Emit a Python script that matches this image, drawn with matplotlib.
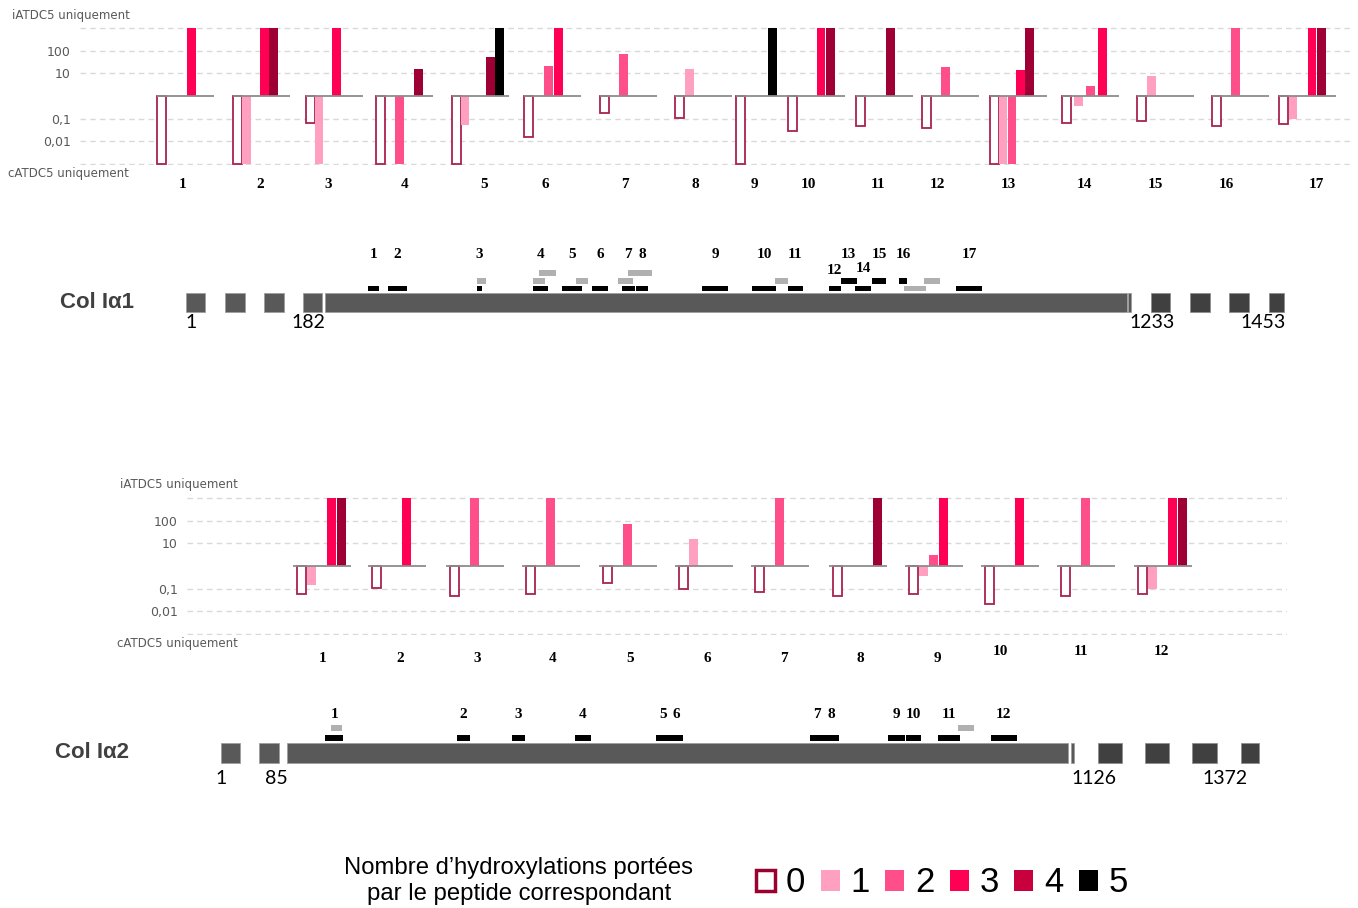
import numpy as np
import matplotlib.pyplot as plt
from matplotlib.patches import Patch
from matplotlib.ticker import NullLocator

W, H = 1358, 908

# ratio iATDC5 / cATDC5 per peptide (log scale); I_ONLY / C_ONLY = peptide seen in one cell line only
I_ONLY = 1e3
C_ONLY = 1e-3
nan = np.nan

# Col I alpha1 : 17 peptides, one list per number of hydroxylations
a1_h0 = [C_ONLY, C_ONLY, 0.065, C_ONLY, C_ONLY, 0.015, 0.17, 0.11, C_ONLY, 0.028, 0.047, 0.039, C_ONLY, 0.065, 0.077, 0.047, 0.06]
a1_h1 = [nan, C_ONLY, C_ONLY, nan, 0.055, nan, nan, 16, nan, nan, nan, nan, C_ONLY, 0.36, 7.6, nan, 0.1]
a1_h2 = [nan, nan, nan, C_ONLY, nan, 22, 74, nan, nan, nan, nan, 20, C_ONLY, 2.7, nan, I_ONLY, nan]
a1_h3 = [I_ONLY, I_ONLY, I_ONLY, nan, nan, I_ONLY, nan, nan, nan, I_ONLY, nan, nan, 13.5, I_ONLY, nan, nan, I_ONLY]
a1_h4 = [nan, I_ONLY, nan, 16, 52, nan, nan, nan, nan, I_ONLY, I_ONLY, nan, I_ONLY, nan, nan, nan, I_ONLY]
a1_h5 = [nan, nan, nan, nan, I_ONLY, nan, nan, nan, I_ONLY, nan, nan, nan, nan, nan, nan, nan, nan]

# Col I alpha2 : 12 peptides
a2_h0 = [0.06, 0.11, 0.048, 0.056, 0.17, 0.1, 0.07, 0.048, 0.06, 0.021, 0.048, 0.06]
a2_h1 = [0.145, nan, nan, nan, nan, 16, nan, nan, 0.36, nan, nan, 0.1]
a2_h2 = [nan, nan, I_ONLY, I_ONLY, 74, nan, I_ONLY, nan, 3, nan, I_ONLY, nan]
a2_h3 = [I_ONLY, I_ONLY, nan, nan, nan, nan, nan, nan, I_ONLY, I_ONLY, nan, I_ONLY]
a2_h4 = [I_ONLY, nan, nan, nan, nan, nan, nan, I_ONLY, nan, nan, nan, I_ONLY]
a2_h5 = [nan] * 12

# peptide positions on the sequence (residues)
a1_pep_start = [238, 265, 381, 455, 493, 532, 571, 590, 676, 742, 789, 842, 858, 877, 899, 934, 1009]
a1_pep_end = [253, 289, 388, 474, 519, 553, 588, 605, 710, 773, 808, 858, 879, 898, 917, 945, 1043]
a1_gray_start = [381, 455, 462, 511, 566, 579, 772, 941, 967]
a1_gray_end = [393, 470, 485, 527, 586, 611, 789, 970, 988]

a2_pep_start = [136, 312, 385, 469, 577, 596, 782, 801, 886, 910, 953, 1023]
a2_pep_end = [160, 329, 402, 490, 596, 613, 801, 821, 909, 930, 982, 1058]
a2_gray_start = [144, 980]
a2_gray_end = [158, 1001]

# chain domains (residues)
a1_domains = [(0, 25), (51, 77), (102, 128), (153, 178), (182, 1233), (1234, 1238),
              (1264, 1289), (1316, 1342), (1367, 1393), (1419, 1439)]
a2_domains = [(-3, 22), (48, 74), (85, 1126), (1130, 1134),
              (1166, 1198), (1229, 1261), (1291, 1325), (1357, 1381)]
a1_marks = ['1', '182', '1233', '1453']
a2_marks = ['1', '85', '1126', '1372']

COLORS = ['white', '#ffa0c0', '#ff4f8a', '#ff0055', '#9e0035', '#000000']
LEG_COLORS = ['white', '#ffa0c0', '#ff4f8a', '#ff0055', '#c8003e', '#000000']
EDGE0 = '#a8234f'
GRID = '#d9d9d9'
TXT = '#595959'
PAD = 0.05  # decades of room above/below so the end gridlines are not cut

fig = plt.figure(figsize=(W / 100, H / 100), dpi=100)


def px_axes(x0, y0, x1, y1):
    return fig.add_axes([x0 / W, 1 - y1 / H, (x1 - x0) / W, (y1 - y0) / H])


def ratio_chart(ax, series, starts, steps, bar_w, base_from, base_len, lab_x, lab_y):
    starts = np.asarray(starts, float)
    steps = np.asarray(steps, float) * np.ones(len(starts))
    for h, vals in enumerate(series):
        vals = np.asarray(vals, float)
        ok = ~np.isnan(vals)
        if not ok.any():
            continue
        xs = starts[ok] + h * steps[ok]
        v = vals[ok]
        if h == 0:
            ax.bar(xs, v - 1, bottom=1, width=bar_w, align='edge', facecolor='white',
                   edgecolor=EDGE0, linewidth=1.3, zorder=3)
        else:
            ax.bar(xs, v - 1, bottom=1, width=bar_w, align='edge', color=COLORS[h],
                   linewidth=0, zorder=3)
    ax.hlines(np.ones(len(starts)), starts + base_from, starts + base_from + base_len,
              color='#8c8c8c', lw=1.3, zorder=4)
    ax.set_yscale('log')
    ax.set_ylim(10 ** (-3 - PAD), 10 ** (3 + PAD))
    ax.set_yticks([1e3, 1e2, 1e1, 1e-1, 1e-2, 1e-3], ['', '100', '10', '0,1', '0,01', ''])
    ax.yaxis.set_minor_locator(NullLocator())
    ax.set_xticks([])
    ax.tick_params(axis='y', length=0, pad=6.5, labelsize=9, labelcolor=TXT)
    ax.grid(axis='y', ls=(0, (4, 3)), color=GRID, lw=1)
    ax.set_axisbelow(True)
    for s in ax.spines.values():
        s.set_visible(False)
    for i, (x, y) in enumerate(zip(lab_x, lab_y)):
        ax.text(x, y, str(i + 1), transform=ax.get_xaxis_transform(), ha='center', va='center',
                family='Liberation Serif', weight='bold', fontsize=11)


dy = PAD * 22.67  # pixels per decade

# ---- top chart : Col I alpha1 ----
ax1 = px_axes(80, 28 - dy, 1352, 164 + dy)
ax1.set_xlim(80, 1352)
a1_starts = [157, 233, 306, 376, 452, 524, 600, 675, 736, 788, 856, 922, 990, 1062, 1137, 1212, 1279]
a1_steps = [10, 9, 8.7, 9.5, 8.6, 10, 9.5, 10, 6.4, 9.5, 7.5, 9.5, 8.75, 12, 10, 9.5, 9.5]
a1_lab_x = [183, 260, 328, 405, 484, 545, 625, 695, 754, 808, 878, 937, 1008, 1084, 1155, 1226, 1316]
ratio_chart(ax1, [a1_h0, a1_h1, a1_h2, a1_h3, a1_h4, a1_h5], a1_starts, a1_steps, 8.5, 0, 57,
            a1_lab_x, [-0.14] * 17)
fig.text(12 / W, 1 - 15 / H, 'iATDC5 uniquement', fontsize=8.5, color=TXT, va='center')
fig.text(8 / W, 1 - 174 / H, 'cATDC5 uniquement', fontsize=8.5, color=TXT, va='center')

# ---- bottom chart : Col I alpha2 ----
ax2 = px_axes(187, 498 - dy, 1287, 634 + dy)
ax2.set_xlim(187, 1287)
a2_starts = [297, 372, 450, 526, 603, 679, 755, 833, 909, 985, 1061, 1138]
a2_lab_x = [323, 400, 477, 553, 630, 707, 784, 860, 937, 1000, 1081, 1161]
a2_lab_y = [-0.169] * 9 + [-0.118] * 3
ratio_chart(ax2, [a2_h0, a2_h1, a2_h2, a2_h3, a2_h4, a2_h5], a2_starts, 9.9, 9, -4, 58,
            a2_lab_x, a2_lab_y)
fig.text(120 / W, 1 - 484 / H, 'iATDC5 uniquement', fontsize=8.5, color=TXT, va='center')
fig.text(117 / W, 1 - 643 / H, 'cATDC5 uniquement', fontsize=8.5, color=TXT, va='center')


# ---- chain diagrams ----
def chain(y0, y1, anchor, domains, bar_y, dark_from, peps, grays, gray_rows, pep_rows,
          row_y, row_h, lab_rows, marks, mark_pos, mark_ha, mark_y, name, name_x):
    ax = px_axes(0, y0, W, y1)
    (p0, r0), (p1, r1) = anchor
    k = (r1 - r0) / (p1 - p0)
    ax.set_xlim(r0 - p0 * k, r0 + (W - p0) * k)
    ax.set_ylim(y1, y0)
    ax.axis('off')
    light = [(a, b - a) for a, b in domains[:dark_from]]
    dark = [(a, b - a) for a, b in domains[dark_from:]]
    ax.broken_barh(light, (bar_y[0], bar_y[1] - bar_y[0]), facecolor='#595959',
                   edgecolor='#9a9a9a', lw=0.5)
    ax.broken_barh(dark, (bar_y[0], bar_y[1] - bar_y[0]), facecolor='#404040',
                   edgecolor='#8a8a8a', lw=0.5)
    starts, ends = peps
    for i, (a, b) in enumerate(zip(starts, ends)):
        yy = row_y[pep_rows[i]]
        ax.broken_barh([(a, b - a)], (yy - row_h, row_h), facecolor='black')
        ax.text((a + b) / 2, lab_rows[i], str(i + 1), ha='center', va='center',
                family='Liberation Serif', weight='bold', fontsize=11)
    gs, ge = grays
    for (a, b), r in zip(zip(gs, ge), gray_rows):
        yy = row_y[r]
        ax.broken_barh([(a, b - a)], (yy - row_h, row_h), facecolor='#b0b0b0')
    for m, xm, ha in zip(marks, mark_pos, mark_ha):
        ax.text(xm, mark_y, m, ha=ha, va='center', family='Lato', fontsize=14, color='black')
    fig.text(name_x / W, 1 - (bar_y[0] + bar_y[1]) / 2 / H, name, fontsize=16, weight='bold',
             color='#404040', va='center', family='Liberation Sans')
    return ax


a1_rows = [0] * 12 + [1, 0, 1, 1, 0]
a1_lab_y = [254] * 11 + [270, 254, 268, 254, 254, 254]
chain(230, 345, ((325, 182), (1127, 1233)), a1_domains, (293, 312), 6,
      (a1_pep_start, a1_pep_end), (a1_gray_start, a1_gray_end), [1, 1, 2, 1, 1, 2, 1, 0, 1],
      a1_rows, [291, 283.5, 275.5], 5.5, a1_lab_y,
      a1_marks, [-1, 182, 1236, 1441], ['left', 'right', 'left', 'right'], 323,
      'Col I\u03b11', 60)

chain(690, 800, ((287, 85), (1068, 1126)), a2_domains, (743, 763), 4,
      (a2_pep_start, a2_pep_end), (a2_gray_start, a2_gray_end), [1, 1],
      [0] * 12, [741, 731], 6, [714] * 12,
      a2_marks, [-3, 86, 1130, 1335], ['center', 'right', 'left', 'center'], 779,
      'Col I\u03b12', 55)

# ---- legend ----
narrow = ['Liberation Sans Narrow', 'Liberation Sans']
fig.text(519 / W, 1 - 881 / H, 'Nombre d\u2019hydroxylations portées\npar le peptide correspondant',
         ha='center', va='center', fontsize=17.2, family=narrow, linespacing=1.2)
handles = [Patch(facecolor=LEG_COLORS[0], edgecolor='#9a0030', linewidth=2.5)]
handles += [Patch(facecolor=c, edgecolor='none') for c in LEG_COLORS[1:]]
leg = fig.legend(handles, ['0', '1', '2', '3', '4', '5'], ncol=6, loc='center',
                 bbox_to_anchor=(942 / W, 1 - 883 / H), frameon=False,
                 prop={'family': narrow, 'size': 25}, handlelength=0.55, handleheight=0.55,
                 handletextpad=0.3, columnspacing=0.45, borderpad=0)

fig.savefig('out.png', dpi=100)
